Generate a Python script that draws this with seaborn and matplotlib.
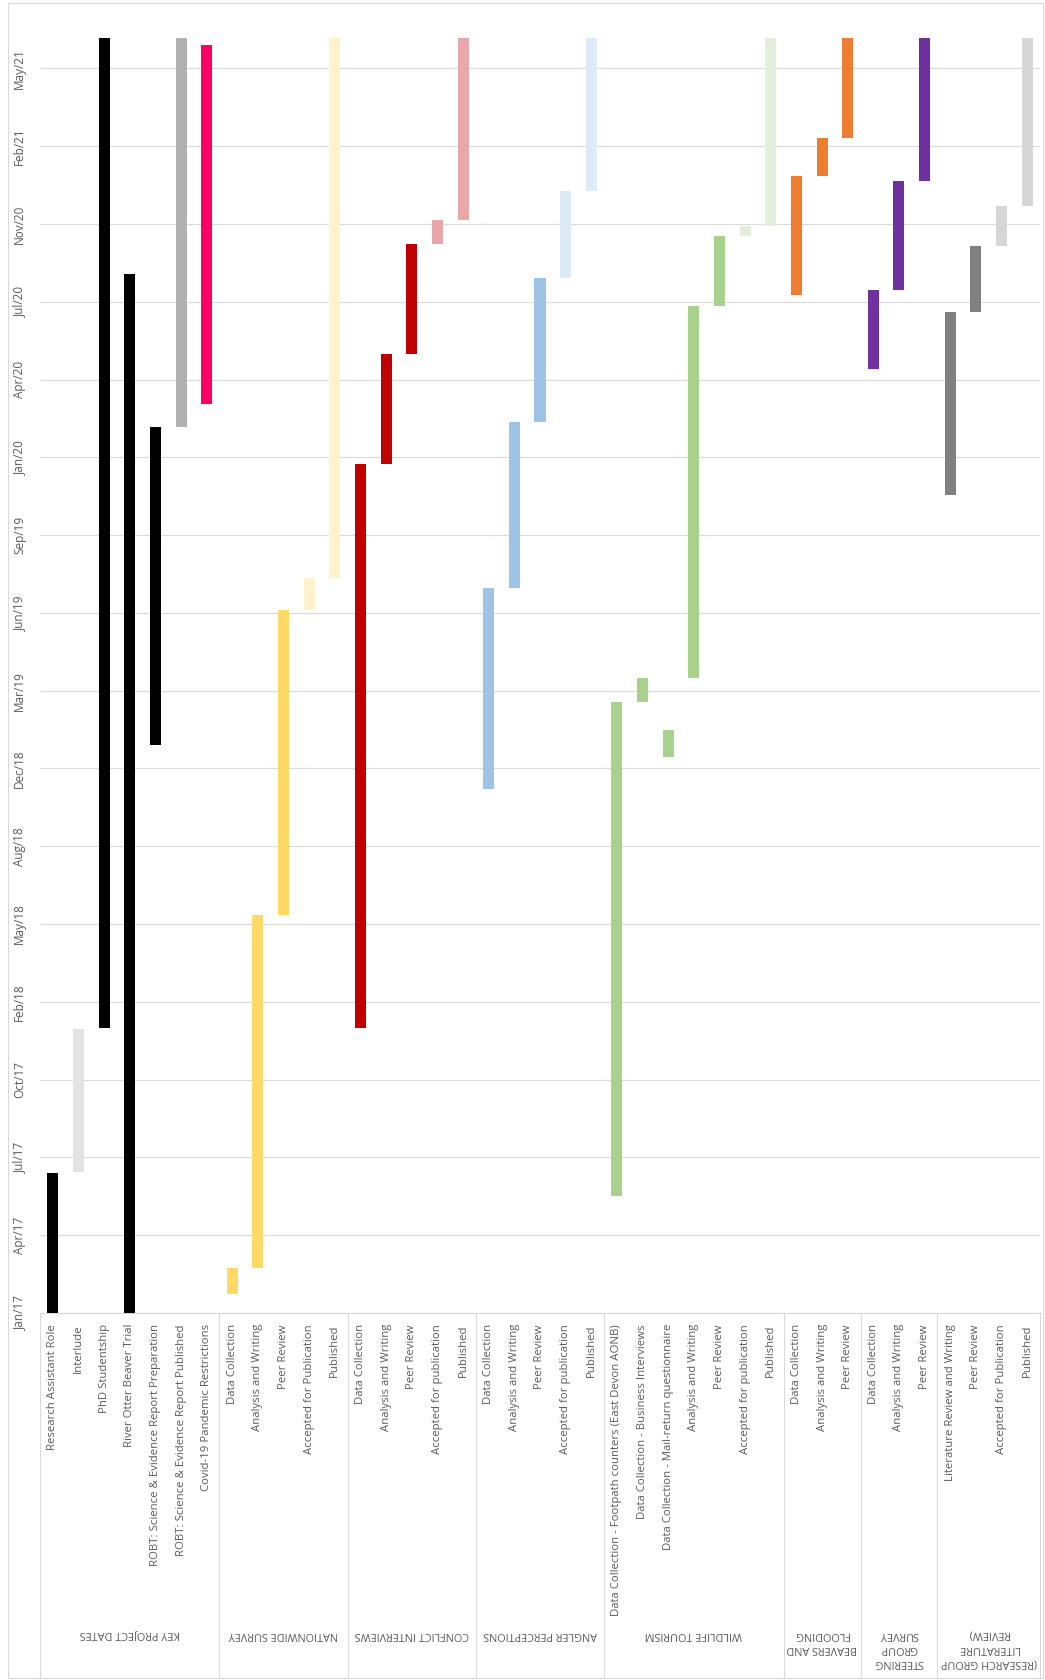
import numpy as np
import pandas as pd
import matplotlib
matplotlib.use("Agg")
import matplotlib.pyplot as plt
import matplotlib.dates as mdates
from matplotlib.lines import Line2D
from matplotlib.patches import Rectangle
import seaborn as sns

# ---- project timeline data ----
groups = [
    "KEY PROJECT DATES",
    "NATIONWIDE SURVEY",
    "CONFLICT INTERVIEWS",
    "ANGLER PERCEPTIONS",
    "WILDLIFE TOURISM",
    "BEAVERS AND\nFLOODING",
    "STEERING\nGROUP\nSURVEY",
    "(RESEARCH GROUP\nLITERATURE\nREVIEW)",
]
group_sizes = [7, 5, 5, 5, 7, 3, 3, 4]

tasks = [
    "Research Assistant Role", "Interlude", "PhD Studentship", "River Otter Beaver Trial",
    "ROBT: Science & Evidence Report Preparation", "ROBT: Science & Evidence Report Published",
    "Covid-19 Pandemic Restrictions",
    "Data Collection", "Analysis and Writing", "Peer Review", "Accepted for Publication", "Published",
    "Data Collection", "Analysis and Writing", "Peer Review", "Accepted for publication", "Published",
    "Data Collection", "Analysis and Writing", "Peer Review", "Accepted for publication", "Published",
    "Data Collection - Footpath counters (East Devon AONB)", "Data Collection - Business Interviews",
    "Data Collection - Mail-return questionnaire", "Analysis and Writing", "Peer Review",
    "Accepted for publication", "Published",
    "Data Collection", "Analysis and Writing", "Peer Review",
    "Data Collection", "Analysis and Writing", "Peer Review",
    "Literature Review and Writing", "Peer Review", "Accepted for Publication", "Published",
]

starts = [
    "2017-01-01", "2017-07-01", "2018-01-02", "2017-01-01", "2019-01-01", "2020-02-14", "2020-03-15",
    "2017-01-26", "2017-02-28", "2018-05-28", "2019-06-24", "2019-08-04",
    "2018-01-02", "2019-12-28", "2020-05-18", "2020-10-06", "2020-11-06",
    "2018-11-06", "2019-07-22", "2020-02-20", "2020-08-23", "2020-12-13",
    "2017-06-01", "2019-02-25", "2018-12-17", "2019-03-28", "2020-07-18", "2020-10-17", "2020-10-29",
    "2020-08-01", "2021-01-02", "2021-02-19",
    "2020-04-29", "2020-08-08", "2020-12-26",
    "2019-11-18", "2020-07-11", "2020-10-03", "2020-11-24",
]

ends = [
    "2017-06-30", "2018-01-01", "2021-06-28", "2020-08-29", "2020-02-14", "2021-06-28", "2021-06-19",
    "2017-02-28", "2018-05-28", "2019-06-24", "2019-08-04", "2021-06-28",
    "2019-12-28", "2020-05-18", "2020-10-06", "2020-11-06", "2021-06-28",
    "2019-07-22", "2020-02-20", "2020-08-23", "2020-12-13", "2021-06-28",
    "2019-02-25", "2019-03-28", "2019-01-21", "2020-07-18", "2020-10-17", "2020-10-29", "2021-06-28",
    "2021-01-02", "2021-02-19", "2021-06-28",
    "2020-08-08", "2020-12-26", "2021-06-28",
    "2020-07-11", "2020-10-03", "2020-11-24", "2021-06-28",
]

colors = [
    "#000000", "#e3e3e3", "#000000", "#000000", "#000000", "#b1b1b1", "#ff0066",
    "#ffd966", "#ffd966", "#ffd966", "#fff2cc", "#fff2cc",
    "#c00000", "#c00000", "#c00000", "#e9a7a9", "#e9a7a9",
    "#9dc3e6", "#9dc3e6", "#9dc3e6", "#deebf7", "#deebf7",
    "#a9d18e", "#a9d18e", "#a9d18e", "#a9d18e", "#a9d18e", "#e2efda", "#e2efda",
    "#ed7d31", "#ed7d31", "#ed7d31",
    "#7030a0", "#7030a0", "#7030a0",
    "#808080", "#808080", "#d6d6d6", "#d6d6d6",
]

axis_start = "2017-01-01"
axis_end = "2021-06-28"
tick_step_days = 100

# ---- styling ----
sns.set_theme(style="white")
plt.rcParams["font.family"] = ["Open Sans", "DejaVu Sans"]
text_color = "#595959"
line_color = "#d9d9d9"

W, H = 1045, 1680
fig = plt.figure(figsize=(W / 100, H / 100), dpi=100)
fig.patch.set_facecolor("white")

ax_left, ax_right, ax_top, ax_bottom = 40, 1040, 38, 1313
ax = fig.add_axes([ax_left / W, (H - ax_bottom) / H,
                   (ax_right - ax_left) / W, (ax_bottom - ax_top) / H])

df = pd.DataFrame({
    "task": tasks,
    "start": pd.to_datetime(starts),
    "end": pd.to_datetime(ends),
    "color": colors,
})
df["pos"] = np.arange(len(df))
s = mdates.date2num(df["start"])
e = mdates.date2num(df["end"])

ax.bar(df["pos"], e - s, bottom=s, width=0.43, color=df["color"],
       linewidth=0, zorder=3)

ax.set_xlim(-0.5, len(df) - 0.5)
t0 = pd.Timestamp(axis_start)
ax.set_ylim(mdates.date2num(t0), mdates.date2num(pd.Timestamp(axis_end)))

ticks = [t0 + pd.Timedelta(days=tick_step_days * k) for k in range(17)]
ax.set_yticks(mdates.date2num(ticks))
ax.yaxis.set_major_formatter(mdates.DateFormatter("%b/%y"))
ax.grid(axis="y", color=line_color, lw=0.8, zorder=0)
ax.grid(axis="x", visible=False)
ax.set_axisbelow(True)
for sp in ["top", "right", "left"]:
    ax.spines[sp].set_visible(False)
ax.spines["bottom"].set_color(line_color)
ax.spines["bottom"].set_linewidth(0.8)

ax.set_xticks(df["pos"])
ax.set_xticklabels(df["task"], rotation=90, fontsize=8.2, color=text_color)
ax.tick_params(axis="x", length=0, pad=8)
ax.tick_params(axis="y", length=0, pad=10, labelsize=8.5, labelcolor=text_color)
for lab in ax.get_yticklabels():
    lab.set_rotation(90)
    lab.set_va("center")

# ---- group separators and group captions below the category labels ----
trans = ax.get_xaxis_transform()
px = ax_bottom - ax_top
bounds = np.concatenate([[0], np.cumsum(group_sizes)]) - 0.5
y_low = -(1678 - ax_bottom) / px
for b in bounds:
    ax.add_line(Line2D([b, b], [0, y_low], transform=trans, color=line_color,
                       lw=0.8, clip_on=False))

y_cap = -(1629 - ax_bottom) / px
for g, lo, hi in zip(groups, bounds[:-1], bounds[1:]):
    ax.text((lo + hi) / 2, y_cap, g, transform=trans, rotation=180,
            ha="center", va="top", fontsize=7.8, color=text_color,
            linespacing=1.4, multialignment="center")

# chart frame
fig.patches.append(Rectangle((8 / W, 2 / H), (1043 - 8) / W, (1677 - 2) / H,
                             transform=fig.transFigure, fill=False,
                             edgecolor=line_color, lw=0.8))

fig.savefig("out.png", dpi=100, facecolor="white")
